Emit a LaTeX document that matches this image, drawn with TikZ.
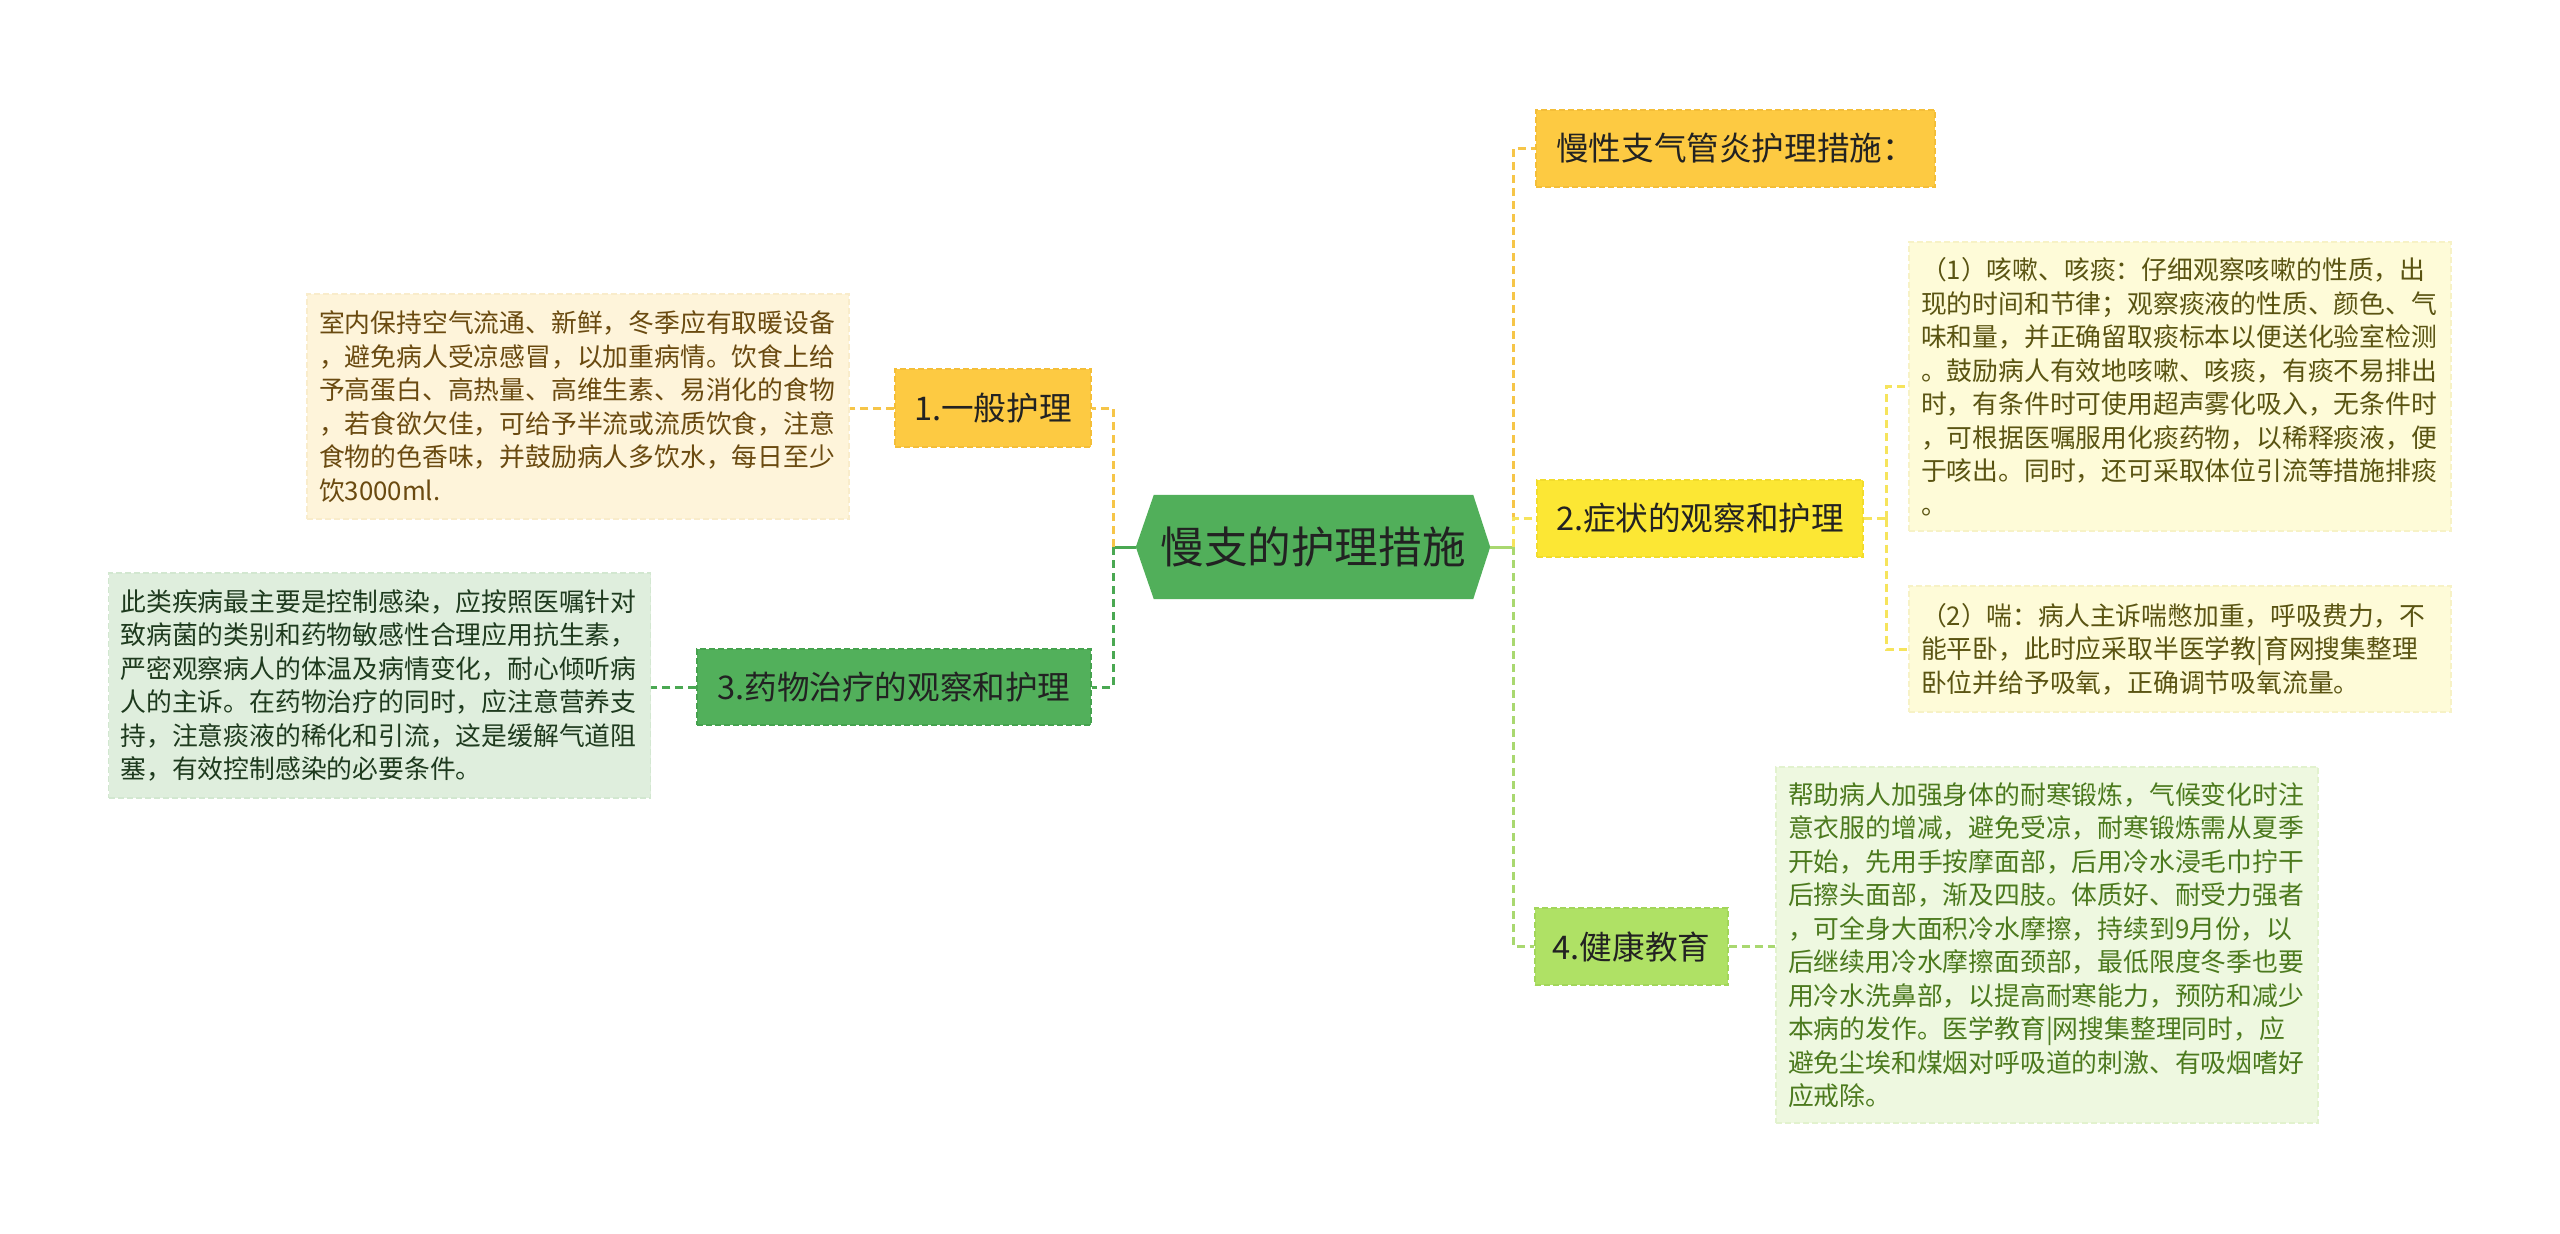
\documentclass[tikz,border=0pt]{standalone}
\usepackage{fontspec}
\setmainfont{Noto Sans CJK SC}
\usetikzlibrary{calc}
\pgfdeclarelayer{background}
\pgfsetlayers{background,main}
\definecolor{rootgreen}{HTML}{51AF5A}
\definecolor{orng}{HTML}{FDCA42}
\definecolor{orngB}{HTML}{F4BE38}
\definecolor{orngL}{HTML}{F6C548}
\definecolor{yell}{HTML}{FCE734}
\definecolor{yellB}{HTML}{F2DC2C}
\definecolor{yellL}{HTML}{F6E45C}
\definecolor{grn}{HTML}{52B05B}
\definecolor{grnB}{HTML}{45A24E}
\definecolor{grnL}{HTML}{4AA852}
\definecolor{lgrn}{HTML}{AFE165}
\definecolor{lgrnB}{HTML}{A2D65A}
\definecolor{lgrnL}{HTML}{A9D870}
\definecolor{txtdark}{HTML}{222222}
\definecolor{creamF}{HTML}{FEF4DA}
\definecolor{creamB}{HTML}{F9ECCB}
\definecolor{creamT}{HTML}{6A4A10}
\definecolor{mintF}{HTML}{DFEEDD}
\definecolor{mintB}{HTML}{D2E7D0}
\definecolor{mintT}{HTML}{1E3A1E}
\definecolor{lyF}{HTML}{FEFBD8}
\definecolor{lyB}{HTML}{F7F2C6}
\definecolor{lyT}{HTML}{5A5412}
\definecolor{lgF}{HTML}{EEF8E0}
\definecolor{lgB}{HTML}{E2F2CE}
\definecolor{lgT}{HTML}{4C7A1E}
\begin{document}
\begin{tikzpicture}[x=1pt,y=-1pt,
  branchbox/.style={rectangle, inner sep=0pt, text=txtdark,
    font=\fontsize{32.6}{38}\selectfont, dash pattern=on 6pt off 3pt, line width=1.5pt},
  notebox/.style={rectangle, inner xsep=12pt, inner ysep=0pt, align=left, text width=518pt,
    font=\fontsize{25.8}{33.5}\selectfont, dash pattern=on 6pt off 3pt, line width=1.2pt},
  conn/.style={line width=3pt, dash pattern=on 8pt off 5pt},
  rootconn/.style={line width=3pt}]
\begin{pgfonlayer}{background}
\fill[white] (0,0) rectangle (2560,1234);
\end{pgfonlayer}
\useasboundingbox (0,0) rectangle (2560,1234);

% root
\node[rectangle, inner sep=0pt, minimum width=354pt, minimum height=104pt, text=txtdark,
  font=\fontsize{43.6}{50}\selectfont] (root) at (1313,547) {慢支的护理措施};
\begin{pgfonlayer}{background}
\fill[rootgreen] (root.west) -- ($(root.north west)+(18,0)$) -- ($(root.north east)+(-17,0)$)
  -- (root.east) -- ($(root.south east)+(-17,0)$) -- ($(root.south west)+(18,0)$) -- cycle;
\end{pgfonlayer}

% branches
\node[branchbox, fill=orng, draw=orngB, minimum width=196pt, minimum height=78pt] (b1) at (993,408) {1.一般护理};
\node[branchbox, fill=grn, draw=grnB, minimum width=394pt, minimum height=76pt] (b3) at (894,687) {3.药物治疗的观察和护理};
\node[branchbox, fill=orng, draw=orngB, minimum width=399pt, minimum height=77pt] (c0) at (1735.5,148.5) {慢性支气管炎护理措施：};
\node[branchbox, fill=yell, draw=yellB, minimum width=326pt, minimum height=77pt] (b2) at (1700,518.5) {2.症状的观察和护理};
\node[branchbox, fill=lgrn, draw=lgrnB, minimum width=193pt, minimum height=77pt] (b4) at (1631.5,946.5) {4.健康教育};

% notes
\node[notebox, fill=creamF, draw=creamB, text=creamT, minimum width=542pt, minimum height=225pt] (t1) at (578,406.5) {室内保持空气流通、新鲜，冬季应有取暖设备\\
，避免病人受凉感冒，以加重病情。饮食上给\\
予高蛋白、高热量、高维生素、易消化的食物\\
，若食欲欠佳，可给予半流或流质饮食，注意\\
食物的色香味，并鼓励病人多饮水，每日至少\\
饮3000ml.};
\node[notebox, fill=mintF, draw=mintB, text=mintT, minimum width=542pt, minimum height=225pt] (t3) at (379.5,685.5) {此类疾病最主要是控制感染，应按照医嘱针对\\
致病菌的类别和药物敏感性合理应用抗生素，\\
严密观察病人的体温及病情变化，耐心倾听病\\
人的主诉。在药物治疗的同时，应注意营养支\\
持，注意痰液的稀化和引流，这是缓解气道阻\\
塞，有效控制感染的必要条件。};
\node[notebox, fill=lyF, draw=lyB, text=lyT, minimum width=542pt, minimum height=289pt] (t2a) at (2180,386.5) {（1）咳嗽、咳痰：仔细观察咳嗽的性质，出\\
现的时间和节律；观察痰液的性质、颜色、气\\
味和量，并正确留取痰标本以便送化验室检测\\
。鼓励病人有效地咳嗽、咳痰，有痰不易排出\\
时，有条件时可使用超声雾化吸入，无条件时\\
，可根据医嘱服用化痰药物，以稀释痰液，便\\
于咳出。同时，还可采取体位引流等措施排痰\\
。};
\node[notebox, fill=lyF, draw=lyB, text=lyT, minimum width=542pt, minimum height=126pt] (t2b) at (2180,649) {（2）喘：病人主诉喘憋加重，呼吸费力，不\\
能平卧，此时应采取半医学教|育网搜集整理\\
卧位并给予吸氧，正确调节吸氧流量。};
\node[notebox, fill=lgF, draw=lgB, text=lgT, minimum width=542pt, minimum height=356pt] (t4) at (2047,945) {帮助病人加强身体的耐寒锻炼，气候变化时注\\
意衣服的增减，避免受凉，耐寒锻炼需从夏季\\
开始，先用手按摩面部，后用冷水浸毛巾拧干\\
后擦头面部，渐及四肢。体质好、耐受力强者\\
，可全身大面积冷水摩擦，持续到9月份，以\\
后继续用冷水摩擦面颈部，最低限度冬季也要\\
用冷水洗鼻部，以提高耐寒能力，预防和减少\\
本病的发作。医学教育|网搜集整理同时，应\\
避免尘埃和煤烟对呼吸道的刺激、有吸烟嗜好\\
应戒除。};

% junctions
\coordinate (jl) at (1113,547);
\coordinate (jr) at (1513,547);
\coordinate (j2) at (1886,518.5);

% connectors left
\draw[rootconn, grnL] (root.west) -- (jl);
\draw[conn, orngL] (jl) |- (b1.east);
\draw[conn, grnL] (jl) |- (b3.east);
\draw[conn, orngL] (b1.west) -- (t1.east |- b1.west);
\draw[conn, grnL] (b3.west) -- (t3.east |- b3.west);

% connectors right
\draw[rootconn, lgrnL] (root.east) -- (jr);
\draw[conn, orngL] (jr) |- (c0.west);
\draw[conn, yellL] (jr) |- (b2.west);
\draw[conn, lgrnL] (jr) |- (b4.west);
\draw[conn, yellL] (b2.east) -- (j2);
\draw[conn, yellL] (j2) |- (t2a.west);
\draw[conn, yellL] (j2) |- (t2b.west);
\draw[conn, lgrnL] (b4.east) -- (t4.west |- b4.east);
\end{tikzpicture}
\end{document}
